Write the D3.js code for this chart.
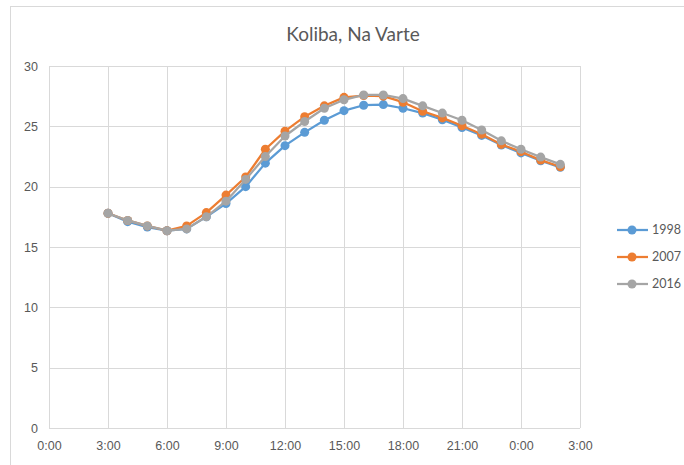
<!DOCTYPE html>
<html lang="en">
<head>
    <meta charset="UTF-8">
    <title>Koliba, Na Varte</title>
    <script src="https://d3js.org/d3.v7.min.js"></script>
    <style>
        html, body {
            margin: 0;
            padding: 0;
            background: #ffffff;
            overflow: hidden;
        }
        svg {
            font-family: Lato, "Open Sans", sans-serif;
        }
        .tick text {
            fill: #595959;
            font-size: 12.5px;
        }
    </style>
</head>
<body>
    <svg width="684" height="465"></svg>

    <script>
        // hours since midnight (3:00 .. 2:00 next day)
        const hours = [3, 4, 5, 6, 7, 8, 9, 10, 11, 12, 13, 14, 15, 16, 17, 18, 19, 20, 21, 22, 23, 24, 25, 26];

        const t1998 = [17.8, 17.1, 16.65, 16.35, 16.5, 17.5, 18.6, 20.0, 21.95, 23.4, 24.5, 25.5, 26.3, 26.75, 26.8, 26.5, 26.1, 25.55, 24.9, 24.25, 23.45, 22.8, 22.15, 21.6];
        const t2007 = [17.8, 17.2, 16.75, 16.35, 16.75, 17.85, 19.3, 20.8, 23.1, 24.6, 25.8, 26.7, 27.4, 27.55, 27.5, 27.0, 26.25, 25.7, 25.05, 24.35, 23.5, 22.9, 22.2, 21.65];
        const t2016 = [17.8, 17.2, 16.75, 16.35, 16.5, 17.5, 18.8, 20.6, 22.5, 24.2, 25.4, 26.5, 27.2, 27.6, 27.6, 27.3, 26.7, 26.1, 25.5, 24.7, 23.8, 23.1, 22.45, 21.85];

        const seriesNames = ["1998", "2007", "2016"];
        const xTicks = [0, 3, 6, 9, 12, 15, 18, 21, 24, 27];
        const yTicks = [0, 5, 10, 15, 20, 25, 30];

        const series = [
            { name: seriesNames[0], values: t1998, color: "#5B9BD5" },
            { name: seriesNames[1], values: t2007, color: "#ED7D31" },
            { name: seriesNames[2], values: t2016, color: "#A5A5A5" }
        ];

        const svg = d3.select("svg");

        // chart border
        svg.append("rect")
            .attr("x", 10.5).attr("y", 6.5)
            .attr("width", 700).attr("height", 500)
            .attr("fill", "#fff")
            .attr("stroke", "#d9d9d9");

        const plotLeft = 49, plotRight = 580, plotTop = 66, plotBottom = 428;

        const x = d3.scaleLinear().domain([0, 27]).range([plotLeft, plotRight]);
        const y = d3.scaleLinear().domain([0, 30]).range([plotBottom, plotTop]);

        // gridlines
        svg.append("g")
            .selectAll("line")
            .data(yTicks)
            .enter().append("line")
            .attr("x1", plotLeft).attr("x2", plotRight)
            .attr("y1", d => Math.round(y(d)) + 0.5)
            .attr("y2", d => Math.round(y(d)) + 0.5)
            .attr("stroke", "#d9d9d9");

        svg.append("g")
            .selectAll("line")
            .data(xTicks)
            .enter().append("line")
            .attr("y1", plotTop).attr("y2", plotBottom)
            .attr("x1", d => Math.round(x(d)) + 0.5)
            .attr("x2", d => Math.round(x(d)) + 0.5)
            .attr("stroke", "#d9d9d9");

        // axes (labels only)
        const xAxis = d3.axisBottom(x)
            .tickValues(xTicks)
            .tickSize(0)
            .tickPadding(13)
            .tickFormat(d => (d % 24) + ":00");

        svg.append("g")
            .attr("transform", `translate(0,${plotBottom})`)
            .call(xAxis)
            .call(g => g.select(".domain").remove());

        const yAxis = d3.axisLeft(y)
            .tickValues(yTicks)
            .tickSize(0)
            .tickPadding(11);

        svg.append("g")
            .attr("transform", `translate(${plotLeft},0)`)
            .call(yAxis)
            .call(g => g.select(".domain").remove());

        // lines + markers
        const line = d3.line()
            .x((d, i) => x(hours[i]))
            .y(d => y(d));

        series.forEach(s => {
            svg.append("path")
                .datum(s.values)
                .attr("fill", "none")
                .attr("stroke", s.color)
                .attr("stroke-width", 2.25)
                .attr("stroke-linejoin", "round")
                .attr("d", line);

            svg.append("g")
                .selectAll("circle")
                .data(s.values)
                .enter().append("circle")
                .attr("cx", (d, i) => x(hours[i]))
                .attr("cy", d => y(d))
                .attr("r", 4.5)
                .attr("fill", s.color);
        });

        // title
        svg.append("text")
            .attr("x", 353)
            .attr("y", 41)
            .attr("text-anchor", "middle")
            .attr("fill", "#595959")
            .style("font-size", "19px")
            .text("Koliba, Na Varte");

        // legend
        const legend = svg.append("g")
            .selectAll("g")
            .data(series)
            .enter().append("g")
            .attr("transform", (d, i) => `translate(0,${230 + i * 27})`);

        legend.append("line")
            .attr("x1", 617).attr("x2", 648)
            .attr("stroke", d => d.color)
            .attr("stroke-width", 2.25);

        legend.append("circle")
            .attr("cx", 632)
            .attr("r", 4.5)
            .attr("fill", d => d.color);

        legend.append("text")
            .attr("x", 652)
            .attr("dy", "0.35em")
            .attr("fill", "#595959")
            .style("font-size", "12.5px")
            .text(d => d.name);
    </script>
</body>
</html>
